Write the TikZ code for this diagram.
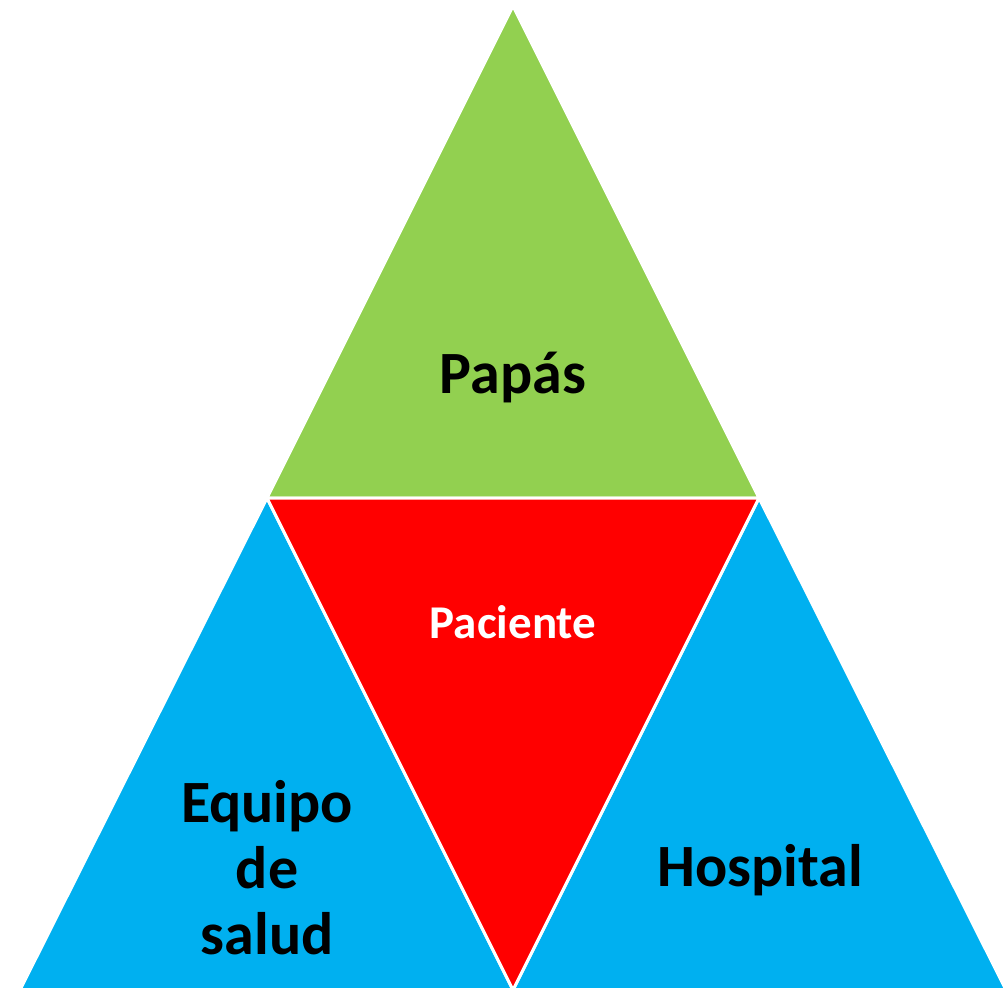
\documentclass[tikz,border=0pt]{standalone}
\usepackage{fontspec}
\setmainfont{Carlito}
\definecolor{papagreen}{HTML}{92D050}
\definecolor{pacred}{HTML}{FF0000}
\definecolor{teamblue}{HTML}{00B0F0}
\tikzset{
  tri/.style={draw=white, line width=3pt, line join=miter},
  lbl/.style={font=\bfseries\fontsize{60}{66}\selectfont, align=center},
}
\begin{document}
\begin{tikzpicture}[x=1pt, y=-1pt]
        \useasboundingbox (0,0) rectangle (1008,987);
        % corners
        \coordinate(T)  at (513,   6);
        \coordinate(ML) at (267, 498);
        \coordinate(MR) at (759, 498);
        \coordinate(BL) at ( 20, 990);
        \coordinate(BM) at (513, 990);
        \coordinate(BR) at (1006, 990);

        \fill[papagreen, tri] (T) -- (ML) -- (MR) -- cycle;
        \fill[teamblue, tri]  (ML) -- (BL) -- (BM) -- cycle;
        \fill[teamblue, tri]  (MR) -- (BM) -- (BR) -- cycle;
        \fill[pacred, tri]    (ML) -- (MR) -- (BM) -- cycle;

        \node[lbl] (papas) at (513, 378) {Papás};
        \node[lbl, font=\bfseries\fontsize{47}{52}\selectfont, text=white] (paciente) at (513, 622) {Paciente};
        \node[lbl] (equipo) at (267, 868) {Equipo\\de\\salud};
        \node[lbl] (hospital) at (760, 870) {Hospital};
\end{tikzpicture}
\end{document}
